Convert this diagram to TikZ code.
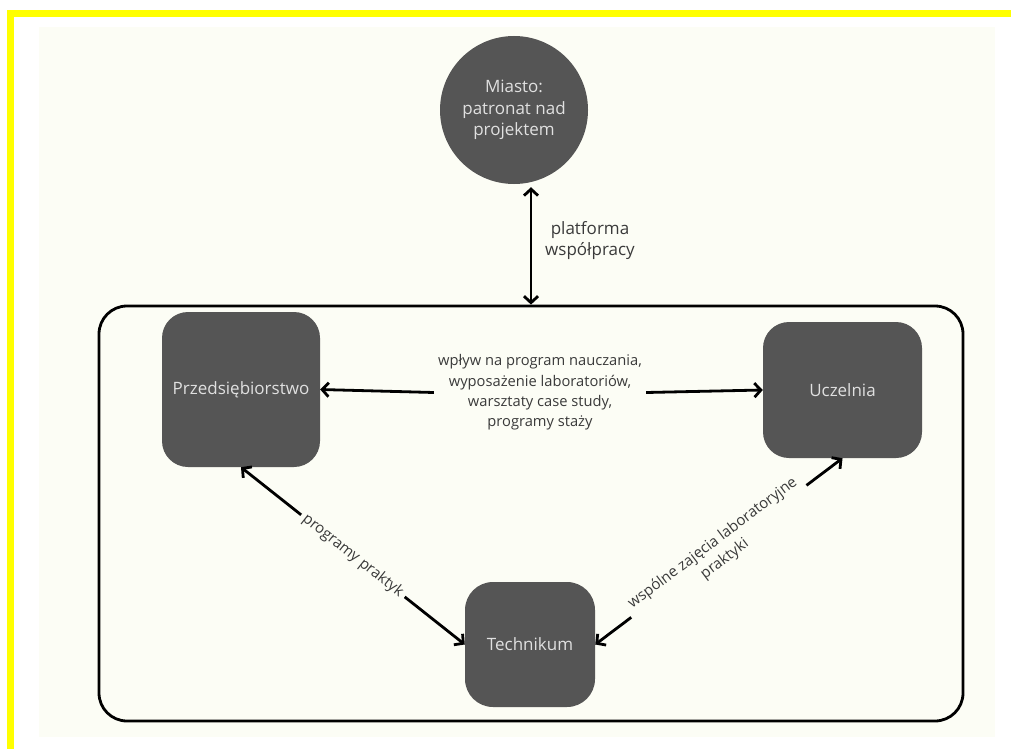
\documentclass[tikz,border=0pt]{standalone}
\usepackage{fontspec}
\setmainfont{Open Sans}
\usetikzlibrary{arrows.meta,calc}
\definecolor{bg}{HTML}{FCFDF5}
\definecolor{boxc}{HTML}{555555}
\definecolor{boxtxt}{HTML}{E0E0E0}
\definecolor{lbltxt}{HTML}{3A3A3A}
\definecolor{yel}{HTML}{FFFF00}
\begin{document}
\begin{tikzpicture}[x=1pt,y=-1pt,
  darkbox/.style={fill=boxc, text=boxtxt, inner sep=0pt, font=\fontsize{17}{21.5}\selectfont},
  lbl/.style={text=lbltxt, align=center, inner sep=4pt},
  barb/.tip={Straight Barb[length=6.5pt,width=14pt]},
  arr/.style={line width=2.8pt, -barb},
  dbl/.style={line width=2.8pt, barb-barb}]
\useasboundingbox (0,0) rectangle (1011,749);
\fill[white] (0,0) rectangle (1011,749);
% yellow border
\fill[yel] (7,10) rectangle (1011,17);
\fill[yel] (7,10) rectangle (14,749);
% panel
\fill[bg] (39,27) rectangle (995,737);
% frame
\node[draw, line width=2.8pt, rounded corners=28pt, minimum width=864pt, minimum height=415pt, inner sep=0pt] (frame) at (531,513.5) {};
% nodes
\node[darkbox, circle, minimum size=148pt, align=center] (miasto) at (514,110) {Miasto:\\patronat nad\\projektem};
\node[darkbox, rounded corners=26pt, minimum width=158pt, minimum height=155pt] (przed) at (241,389.5) {Przedsiębiorstwo};
\node[darkbox, rounded corners=26pt, minimum width=159pt, minimum height=136pt] (ucz) at (842.5,390) {Uczelnia};
\node[darkbox, rounded corners=28pt, minimum width=130pt, minimum height=125pt] (tech) at (530,644.5) {Technikum};
% labels
\node[lbl, font=\fontsize{17}{21}\selectfont] (plat) at (590,241) {platforma\\współpracy};
\node[lbl, font=\fontsize{14.7}{20.4}\selectfont] (mid) at (540,392.5) {wpływ na program nauczania,\\wyposażenie laboratoriów,\\warsztaty case study,\\programy staży};
% connectors
\draw[dbl, shorten <=3pt] (miasto.south -| frame.north) -- (frame.north);
\draw[arr] (mid.west) -- (przed.east);
\draw[arr] (mid.east) -- (ucz.west);
\draw[dbl] (przed.south) -- (tech.west)
  node[lbl, midway, sloped, fill=bg, font=\fontsize{15}{20}\selectfont] (lp) {programy praktyk};
\draw[dbl] (tech.east) -- (ucz.south)
  node[lbl, midway, sloped, fill=bg, inner xsep=6pt, inner ysep=1pt, font=\fontsize{15}{20}\selectfont] (lu) {wspólne zajęcia laboratoryjne\\praktyki};
\end{tikzpicture}
\end{document}
